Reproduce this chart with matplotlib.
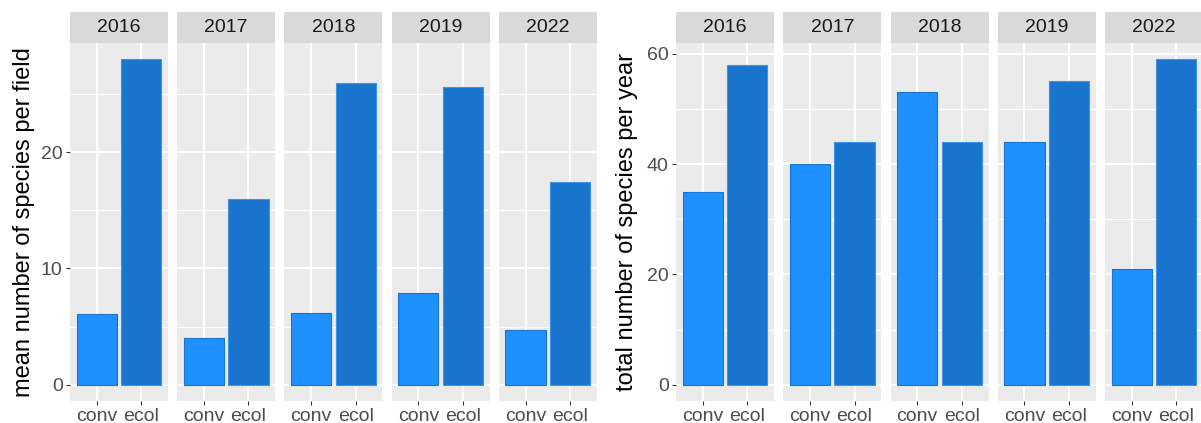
import matplotlib
matplotlib.use("Agg")
import matplotlib.pyplot as plt

# Species counts by farming system and survey year
years = ["2016", "2017", "2018", "2019", "2022"]
systems = ["conv", "ecol"]
mean_conv = [6.1, 4.0, 6.2, 7.9, 4.7]
mean_ecol = [28.0, 16.0, 26.0, 25.6, 17.4]
total_conv = [35, 40, 53, 44, 21]
total_ecol = [58, 44, 44, 55, 59]

plt.rcParams["font.family"] = ["Liberation Sans", "DejaVu Sans"]

W, H = 1201, 423
fig = plt.figure(figsize=(W / 100, H / 100), dpi=100)
fig.patch.set_facecolor("white")

FILL = {"conv": "#1E90FF", "ecol": "#1874CD"}
EDGE = {"conv": "#1874CD", "ecol": "#3D94E6"}


def px_axes(x0, top, w, h):
    return fig.add_axes([x0 / W, (H - top - h) / H, w / W, h / H])


def facet_block(x_start, step, conv, ecol, major, minor, ylabel, label_x):
    vmax = max(max(conv), max(ecol))
    lo, hi = -0.05 * vmax, 1.05 * vmax
    panel_top, panel_h = 43, 358
    strip_top, strip_h = 12, 31
    for i, yr in enumerate(years):
        x0 = x_start + i * step
        ax = px_axes(x0, panel_top, 98, panel_h)
        ax.set_facecolor("#EBEBEB")
        for s in ax.spines.values():
            s.set_visible(False)
        ax.set_axisbelow(True)
        for m in minor:
            ax.axhline(m, color="white", lw=0.75, zorder=0)
        for m in major:
            ax.axhline(m, color="white", lw=1.45, zorder=0)
        for k in range(len(systems)):
            ax.axvline(k, color="white", lw=1.45, zorder=0)
        vals = [conv[i], ecol[i]]
        ax.bar(range(len(systems)), vals, width=0.9,
               color=[FILL[s] for s in systems],
               edgecolor=[EDGE[s] for s in systems],
               linewidth=0.8, zorder=2)
        ax.set_xlim(-0.6, 1.6)
        ax.set_ylim(lo, hi)
        ax.set_xticks(range(len(systems)))
        ax.set_xticklabels(systems)
        ax.set_yticks(major)
        ax.tick_params(axis="both", length=2.8, width=0.8, color="#333333",
                       labelcolor="#4D4D4D", labelsize=14, pad=2.5)
        if i == 0:
            ax.set_yticklabels([f"{m:g}" for m in major])
        else:
            ax.tick_params(axis="y", length=0, labelleft=False)
        # facet strip
        sx = px_axes(x0, strip_top, 98, strip_h)
        sx.set_facecolor("#D9D9D9")
        sx.set_xticks([])
        sx.set_yticks([])
        for s in sx.spines.values():
            s.set_visible(False)
        sx.text(0.5, 0.5, yr, ha="center", va="center", fontsize=14,
                color="#1A1A1A", transform=sx.transAxes)
    fig.text(label_x / W, 1 - 222 / H, ylabel, rotation=90, ha="center",
             va="center", fontsize=17, color="black")


facet_block(70, 107.2, mean_conv, mean_ecol, [0, 10, 20], [5, 15, 25],
            "mean number of species per field", 24)
facet_block(676, 107.25, total_conv, total_ecol, [0, 20, 40, 60],
            [10, 30, 50], "total number of species per year", 627)

fig.savefig("out.png", dpi=100)
